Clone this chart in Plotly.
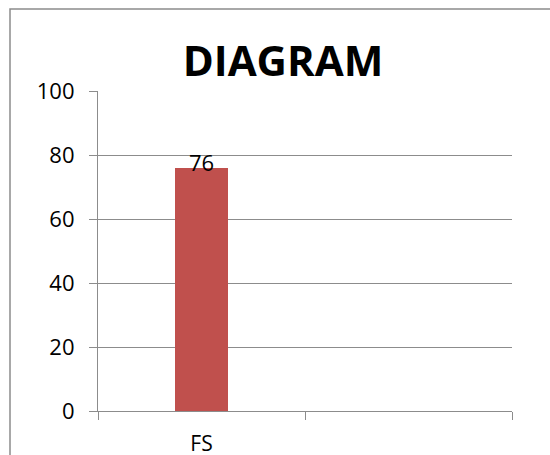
import plotly.graph_objects as go

# Chart data
categories = ["FS", " "]
values = [76, None]
y_ticks = [0, 20, 40, 60, 80, 100]
title_text = "DIAGRAM"

BAR_COLOR = "#C0504D"
LINE_GRAY = "#8C8C8C"
FONT = "Open Sans"

L, R, T, B = 98, 38, 91, 44
W, H = 550, 455
pw, ph = W - L - R, H - T - B

fig = go.Figure()
fig.add_trace(go.Bar(
    x=categories,
    y=values,
    width=0.26,
    marker=dict(color=BAR_COLOR, line=dict(width=0)),
    showlegend=False,
    hoverinfo="skip",
))

# value label sitting on top of the bar
for c, v in zip(categories, values):
    if v is None:
        continue
    fig.add_annotation(
        x=c, y=v, text=str(v), showarrow=False,
        yanchor="middle", yshift=6,
        font=dict(family=FONT, size=22, color="black"),
    )

# outer chart border
fig.add_shape(
    type="rect", xref="paper", yref="paper",
    x0=(10 - L) / pw, x1=(W + 20 - L) / pw,
    y0=-(H + 20 - (H - B)) / ph, y1=1 + (T - 9) / ph,
    line=dict(color=LINE_GRAY, width=1.5),
    fillcolor="rgba(0,0,0,0)", layer="below",
)

fig.update_layout(
    width=W, height=H,
    margin=dict(l=L, r=R, t=T, b=B, pad=0, autoexpand=False),
    paper_bgcolor="white", plot_bgcolor="white",
    title=dict(
        text=f"<b>{title_text}</b>",
        x=283 / W, xanchor="center",
        y=1 - 61 / H, yanchor="middle",
        font=dict(family=FONT, size=42, color="black"),
    ),
    font=dict(family=FONT, size=22, color="black"),
    bargap=0,
)

fig.update_xaxes(
    type="category",
    categoryorder="array", categoryarray=categories,
    range=[-0.5, len(categories) - 0.5],
    showgrid=False,
    showline=True, linecolor=LINE_GRAY, linewidth=1.2,
    ticks="outside", tickson="boundaries", ticklen=8,
    tickcolor=LINE_GRAY, tickwidth=1.2,
    tickfont=dict(family=FONT, size=21, color="black"),
    ticklabelstandoff=14,
    automargin=False,
    fixedrange=True,
)

fig.update_yaxes(
    range=[0, 100],
    tickvals=y_ticks,
    showgrid=True, gridcolor=LINE_GRAY, gridwidth=1.2,
    showline=True, linecolor=LINE_GRAY, linewidth=1.2,
    ticks="outside", ticklen=8, tickcolor=LINE_GRAY, tickwidth=1.2,
    tickfont=dict(family=FONT, size=22, color="black"),
    ticklabelstandoff=10,
    automargin=False,
    zeroline=False,
    fixedrange=True,
)

fig.write_html("out.html")
